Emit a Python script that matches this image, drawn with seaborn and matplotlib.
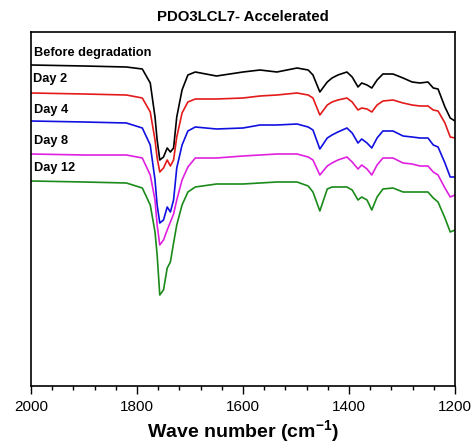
import numpy as np
import pandas as pd
import matplotlib
matplotlib.use("Agg")
import matplotlib.pyplot as plt
import seaborn as sns
from matplotlib.ticker import MultipleLocator

# Wavenumber grid (cm-1) and transmittance readings (arbitrary, offset units)
wavenumber = [2000, 1900, 1820, 1790, 1775, 1766, 1762, 1757, 1750, 1743, 1737, 1731,
              1725, 1715, 1704, 1690, 1650, 1600, 1568, 1536, 1498, 1477, 1468, 1455,
              1441, 1432, 1421, 1404, 1394, 1383, 1376, 1366, 1357, 1347, 1336, 1317,
              1298, 1281, 1266, 1251, 1241, 1232, 1219, 1209, 1200]

before_degradation = [335, 334, 333, 331, 317, 283, 260, 240, 243, 252, 248, 252,
                      283, 310, 325, 328, 324, 328, 330, 328, 332, 330, 325, 308,
                      318, 322, 325, 328, 323, 313, 317, 315, 312, 320, 326, 326,
                      322, 318, 317, 318, 312, 311, 293, 282, 279]
day_2 = [307, 306, 305, 302, 288, 260, 242, 228, 232, 240, 234, 240,
         263, 287, 298, 301, 301, 302, 304, 305, 307, 305, 302, 285,
         295, 298, 300, 302, 298, 290, 292, 291, 288, 295, 299, 300,
         297, 295, 294, 294, 290, 289, 277, 263, 262]
day_4 = [279, 278, 277, 272, 255, 220, 195, 177, 180, 193, 188, 200,
         232, 255, 269, 273, 271, 272, 275, 275, 276, 273, 270, 251,
         262, 265, 268, 272, 267, 257, 261, 257, 252, 262, 269, 269,
         264, 263, 262, 262, 255, 253, 237, 223, 223]
day_8 = [246, 245, 245, 242, 225, 200, 175, 155, 160, 170, 178, 186,
         200, 220, 233, 242, 242, 244, 245, 246, 246, 243, 240, 225,
         234, 237, 240, 243, 238, 231, 235, 231, 225, 235, 242, 242,
         237, 236, 234, 234, 228, 225, 212, 203, 205]
day_12 = [219, 218, 217, 212, 195, 168, 145, 105, 110, 132, 138, 157,
          175, 195, 208, 213, 216, 216, 217, 218, 218, 214, 208, 189,
          211, 213, 213, 213, 210, 200, 203, 200, 190, 203, 211, 212,
          208, 208, 208, 208, 202, 198, 182, 168, 170]

series_names = ["Before degradation", "Day 2", "Day 4", "Day 8", "Day 12"]
series_values = [before_degradation, day_2, day_4, day_8, day_12]
series_colors = ["black", "#e41a1a", "#1010e0", "#e020e0", "#1a8a1a"]
label_pos = [(1995, 347), (1997, 321), (1995, 290), (1995, 259), (1994, 232)]

x_ticks = [2000, 1800, 1600, 1400, 1200]

rows = []
for name, vals in zip(series_names, series_values):
    for w, v in zip(wavenumber, vals):
        rows.append({"wavenumber": w, "value": v, "sample": name})
df = pd.DataFrame(rows)

sns.set_theme(style="white")
plt.rcParams["font.family"] = ["Liberation Sans", "DejaVu Sans"]
plt.rcParams["mathtext.fontset"] = "custom"
plt.rcParams["mathtext.rm"] = "Liberation Sans:bold"
plt.rcParams["mathtext.bf"] = "Liberation Sans:bold"
plt.rcParams["text.color"] = "black"
plt.rcParams["axes.labelcolor"] = "black"

fig = plt.figure(figsize=(4.76, 4.45), dpi=100)
ax = fig.add_axes([31 / 476, 59 / 445, 424 / 476, 354 / 445])

sns.lineplot(data=df, x="wavenumber", y="value", hue="sample",
             hue_order=series_names, palette=series_colors,
             errorbar=None, linewidth=1.2, legend=False, ax=ax)

for name, (tx, ty) in zip(series_names, label_pos):
    ax.text(tx, ty, name, fontsize=9.2, fontweight="bold", ha="left", va="center",
            color="black")

ax.set_xlim(2000, 1200)
ax.set_ylim(14, 368)
ax.set_xticks(x_ticks)
ax.set_xticklabels([str(t) for t in x_ticks])
ax.xaxis.set_minor_locator(MultipleLocator(40))
ax.set_yticks([])
ax.set_ylabel("")
ax.set_xlabel(r"Wave number (cm$^{\mathbf{-1}}$)", fontsize=14, fontweight="bold",
              labelpad=3, color="black")
ax.set_title("PDO3LCL7- Accelerated", fontsize=10.8, fontweight="bold", pad=8,
             color="black")

ax.tick_params(axis="x", which="major", direction="out", length=6, width=1,
               labelsize=11, bottom=True, top=False, pad=4, colors="black")
ax.tick_params(axis="x", which="minor", direction="out", length=3, width=1,
               bottom=True, top=False, colors="black")
for sp in ax.spines.values():
    sp.set_visible(True)
    sp.set_color("black")
    sp.set_linewidth(1.2)

fig.savefig("out.png", dpi=100, facecolor="white")
